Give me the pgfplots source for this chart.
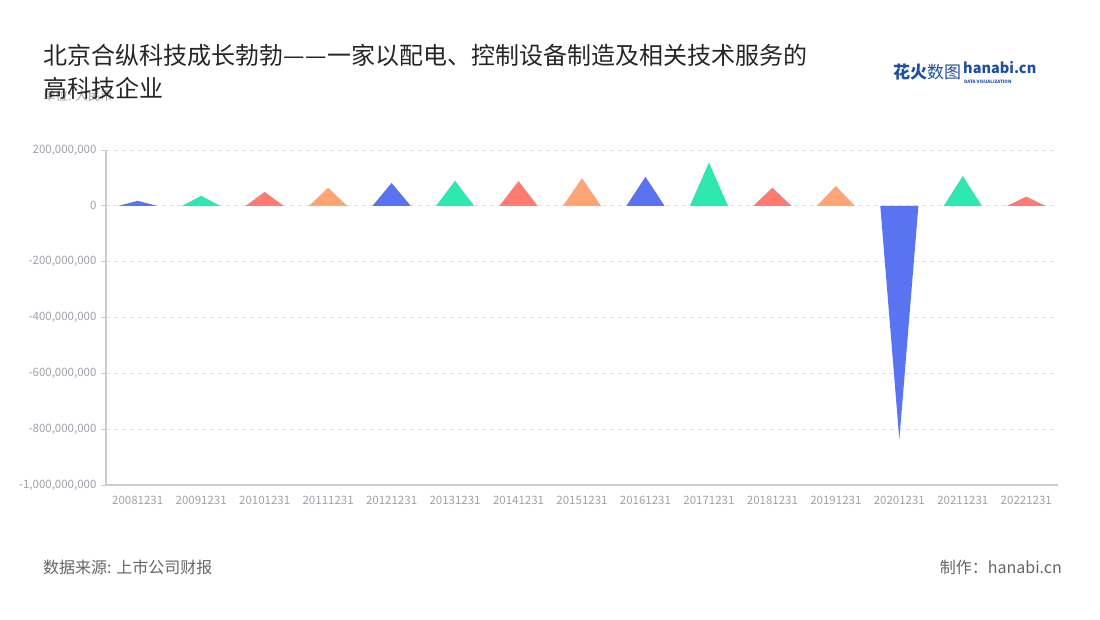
\documentclass[border=0pt]{standalone}
\usepackage{pgfplots}
\pgfplotsset{compat=1.18}
\usepackage{fontspec}
\setmainfont{Noto Sans CJK SC}
\definecolor{cblue}{RGB}{90,115,240}
\definecolor{cgreen}{RGB}{46,232,178}
\definecolor{cred}{RGB}{255,122,112}
\definecolor{corange}{RGB}{255,164,116}
\definecolor{lbl}{RGB}{160,160,170}
\definecolor{axl}{RGB}{204,204,204}
\definecolor{gridc}{RGB}{224,224,224}
\definecolor{logob}{RGB}{30,80,160}
\begin{document}
\begin{tikzpicture}[x=1pt,y=1pt]
\path[use as bounding box, fill=white] (0,0) rectangle (1100,620);
\begin{axis}[
  at={(106pt,135pt)}, anchor=south west,
  scale only axis, width=952pt, height=335pt,
  xmin=-0.5, xmax=14.5, ymin=-1000000000, ymax=200000000,
  axis x line*=bottom, axis y line*=left,
  axis line style={axl, line width=1.2pt},
  xtick={0,...,14},
  xticklabels={20081231,20091231,20101231,20111231,20121231,20131231,20141231,20151231,20161231,20171231,20181231,20191231,20201231,20211231,20221231},
  x tick style={draw=none},
  extra x ticks={-0.5,0.5,...,14.5},
  extra x tick labels={},
  extra x tick style={major tick length=5pt, tick align=outside, tick style={draw=axl, line width=0.8pt}, grid=none},
  ytick={-1000000000,-800000000,-600000000,-400000000,-200000000,0,200000000},
  scaled y ticks=false,
  /pgf/number format/fixed, /pgf/number format/precision=0,
  /pgf/number format/1000 sep={,}, /pgf/number format/assume math mode=true,
  y tick style={draw=axl, line width=0.8pt},
  major tick length=5pt, tick align=outside,
  ymajorgrids, grid style={gridc, dash pattern=on 4pt off 4pt, line width=0.8pt},
  tick label style={font=\fontsize{11.5}{12}\selectfont, text=lbl},
  xticklabel style={yshift=-3pt},
  yticklabel style={xshift=-1pt},
  clip=false,
]
\addplot[fill=cblue, draw=none] coordinates {(-0.3,0) (0,18000000) (0.3,0)} -- cycle;
\addplot[fill=cgreen, draw=none] coordinates {(0.7,0) (1,36000000) (1.3,0)} -- cycle;
\addplot[fill=cred, draw=none] coordinates {(1.7,0) (2,50000000) (2.3,0)} -- cycle;
\addplot[fill=corange, draw=none] coordinates {(2.7,0) (3,65000000) (3.3,0)} -- cycle;
\addplot[fill=cblue, draw=none] coordinates {(3.7,0) (4,82000000) (4.3,0)} -- cycle;
\addplot[fill=cgreen, draw=none] coordinates {(4.7,0) (5,90000000) (5.3,0)} -- cycle;
\addplot[fill=cred, draw=none] coordinates {(5.7,0) (6,89000000) (6.3,0)} -- cycle;
\addplot[fill=corange, draw=none] coordinates {(6.7,0) (7,99000000) (7.3,0)} -- cycle;
\addplot[fill=cblue, draw=none] coordinates {(7.7,0) (8,104000000) (8.3,0)} -- cycle;
\addplot[fill=cgreen, draw=none] coordinates {(8.7,0) (9,155000000) (9.3,0)} -- cycle;
\addplot[fill=cred, draw=none] coordinates {(9.7,0) (10,65000000) (10.3,0)} -- cycle;
\addplot[fill=corange, draw=none] coordinates {(10.7,0) (11,71000000) (11.3,0)} -- cycle;
\addplot[fill=cblue, draw=none] coordinates {(11.7,0) (12,-837000000) (12.3,0)} -- cycle;
\addplot[fill=cgreen, draw=none] coordinates {(12.7,0) (13,107000000) (13.3,0)} -- cycle;
\addplot[fill=cred, draw=none] coordinates {(13.7,0) (14,33000000) (14.3,0)} -- cycle;
\end{axis}
% unit (drawn under the title, as in the reference)
\node[anchor=west, inner sep=0, font=\fontsize{12.5}{14}\selectfont, text=lbl] at (43,524) {单位: 人民币};
% title
\node[anchor=west, inner sep=0, font=\fontsize{24}{26}\selectfont, text=black!85] at (43,565) {北京合纵科技成长勃勃—\kern1pt—一家以配电、控制设备制造及相关技术服务的};
\node[anchor=west, inner sep=0, font=\fontsize{24}{26}\selectfont, text=black!85] at (43,532) {高科技企业};
% logo
\node[anchor=west, inner sep=0, font=\fontsize{17}{18}\selectfont\bfseries, text=logob] at (893,548) {花火\mdseries 数图};
\node[anchor=west, inner sep=0, font=\fontsize{14.5}{15}\selectfont\bfseries, text=logob] at (963,552.5) {hanabi.cn};
\node[anchor=west, inner sep=0, font=\fontsize{4.5}{5}\selectfont\bfseries, text=logob] at (964,538) {DATA VISUALIZATION};
% footer
\node[anchor=west, inner sep=0, font=\fontsize{16}{17}\selectfont, text=black!60] at (43,53) {数据来源: 上市公司财报};
\node[anchor=east, inner sep=0, font=\fontsize{16}{17}\selectfont, text=black!60] at (1062,53) {制作：hanabi.cn};
\end{tikzpicture}
\end{document}
